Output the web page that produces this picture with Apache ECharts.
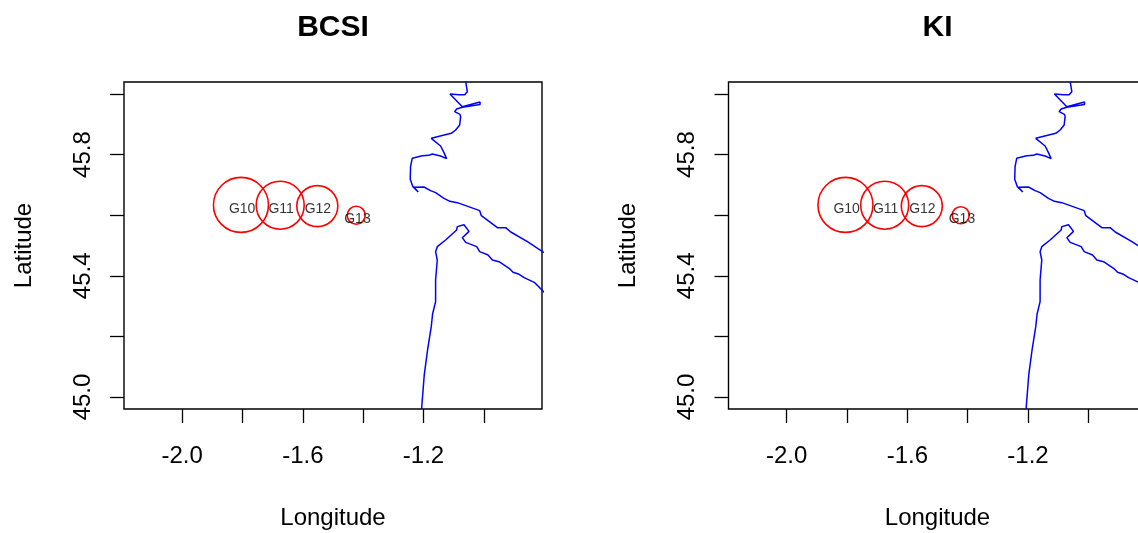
<!DOCTYPE html>
<html><head><meta charset="utf-8">
<style>html,body{margin:0;padding:0;background:#fff;overflow:hidden}#c{width:1138px;height:533px}</style>
<script src="https://cdn.jsdelivr.net/npm/echarts@6/dist/echarts.min.js"></script>
</head><body><div id="c"></div>
<script>
const panelTitles = ['BCSI', 'KI'];
const xTicks = [-2.0, -1.8, -1.6, -1.4, -1.2, -1.0];
const xTickLabels = [-2.0, -1.6, -1.2];
const yTicks = [45.0, 45.2, 45.4, 45.6, 45.8, 46.0];
const yTickLabels = [45.0, 45.4, 45.8];
const groups = ['G10', 'G11', 'G12', 'G13'];
const groupLon = [-1.805, -1.675, -1.552, -1.423];
const groupLat = [45.634, 45.633, 45.630, 45.600];
const labelLon = [-1.801, -1.672, -1.550, -1.419];
const labelLat = [45.620, 45.620, 45.620, 45.587];
const bcsiDiameter = [55, 48, 41, 18];
const kiDiameter = [55, 48, 41, 17];
const coastNorth = [
[-1.0604,46.0407],[-1.0549,46.0352],[-1.0549,46.0077],[-1.0637,45.9978],[-1.0825,45.9978],[-1.1124,46.0000],
[-1.0715,45.9582],[-1.0128,45.9735],[-1.0128,45.9650],[-1.0715,45.9560],[-1.0903,45.9505],[-1.0969,45.9417],
[-1.0792,45.9329],[-1.0770,45.9252],[-1.0803,45.8977],[-1.0936,45.8812],[-1.1080,45.8702],[-1.1744,45.8537],
[-1.1434,45.8284],[-1.1323,45.8064],[-1.1235,45.7866],[-1.1434,45.7954],[-1.1711,45.8020],[-1.1821,45.7976],
[-1.2043,45.7965],[-1.2375,45.7877],[-1.2430,45.7602],[-1.2441,45.7184],[-1.2353,45.6942],[-1.2175,45.6766],
[-1.2319,45.6920],[-1.1987,45.6931],[-1.1766,45.6810],[-1.1600,45.6744],[-1.1323,45.6557],[-1.1124,45.6458],
[-1.0881,45.6414],[-1.0139,45.6150],[-1.0084,45.5985],[-0.9774,45.5754],[-0.9553,45.5589],[-0.9276,45.5589],
[-0.9110,45.5445],[-0.8557,45.5127],[-0.8003,45.4764]];
const coastSouth = [
[-1.2065,44.9604],[-1.1976,45.0727],[-1.1866,45.1552],[-1.1744,45.2322],[-1.1700,45.2740],[-1.1600,45.3147],
[-1.1600,45.3862],[-1.1545,45.4522],[-1.1600,45.4797],[-1.1545,45.4962],[-1.1268,45.5182],[-1.0903,45.5512],
[-1.0881,45.5622],[-1.0659,45.5687],[-1.0493,45.5467],[-1.0715,45.5258],[-1.0604,45.5104],[-1.0239,45.4962],
[-1.0139,45.4797],[-0.9862,45.4687],[-0.9719,45.4522],[-0.9497,45.4467],[-0.9165,45.4247],[-0.9033,45.4115],
[-0.8833,45.4049],[-0.8667,45.3939],[-0.8313,45.3774],[-0.8003,45.3455]];

const FONT = '"Liberation Sans", Arial, sans-serif';
const panels = [{left:124, diam:bcsiDiameter},{left:728.5, diam:kiDiameter}];
const W = 418, TOP = 82, H = 327;
const grid=[],xAxis=[],yAxis=[],title=[],series=[];
panels.forEach((p,i)=>{
  grid.push({left:p.left,top:TOP,width:W,height:H,show:true,borderColor:'#000',borderWidth:1.4,backgroundColor:'transparent',outerBoundsMode:'none'});
  title.push({text:panelTitles[i],left:p.left+W/2-5,top:8,textAlign:'center',
    textStyle:{fontFamily:FONT,fontSize:30,fontWeight:'bold',color:'#000'}});
  xAxis.push({type:'value',gridIndex:i,min:-2.1926,max:-0.8074,name:'Longitude',nameLocation:'middle',nameGap:97,
    nameTextStyle:{fontFamily:FONT,fontSize:24,color:'#000'},splitLine:{show:false},
    axisLine:{show:false},
    axisTick:{show:true,length:14,customValues:xTicks,lineStyle:{color:'#000',width:1.3}},
    axisLabel:{show:true,margin:35,customValues:xTickLabels,fontFamily:FONT,fontSize:24,color:'#000',formatter:v=>v.toFixed(1)}});
  yAxis.push({type:'value',gridIndex:i,min:44.9604,max:46.0396,name:'Latitude',nameLocation:'middle',nameGap:88,nameRotate:90,
    nameTextStyle:{fontFamily:FONT,fontSize:24,color:'#000'},splitLine:{show:false},
    axisLine:{show:false},
    axisTick:{show:true,length:14,customValues:yTicks,lineStyle:{color:'#000',width:1.3}},
    axisLabel:{show:true,margin:41,rotate:90,customValues:yTickLabels,fontFamily:FONT,fontSize:24,color:'#000',formatter:v=>v.toFixed(1),align:'center',verticalAlign:'middle'}});
  [coastNorth,coastSouth].forEach(c=>series.push({type:'line',xAxisIndex:i,yAxisIndex:i,data:c,symbol:'none',clip:true,silent:true,
    lineStyle:{color:'#0000ff',width:1.5}}));
  series.push({type:'scatter',xAxisIndex:i,yAxisIndex:i,silent:true,
    data:groups.map((g,k)=>({name:g,value:[groupLon[k],groupLat[k]],symbolSize:p.diam[k]})),
    symbol:'circle',itemStyle:{color:'rgba(0,0,0,0)',borderColor:'#ff0000',borderWidth:1.6,opacity:1}});
  series.push({type:'scatter',xAxisIndex:i,yAxisIndex:i,silent:true,symbolSize:1,
    itemStyle:{color:'rgba(0,0,0,0)'},
    data:groups.map((g,k)=>({name:g,value:[labelLon[k],labelLat[k]]})),
    label:{show:true,position:'inside',formatter:'{b}',fontFamily:FONT,fontSize:14,color:'#000'}});
});
const chart=echarts.init(document.getElementById('c'),null,{renderer:'canvas'});
chart.setOption({animation:false,backgroundColor:'#fff',title,grid,xAxis,yAxis,series,tooltip:{show:false},legend:{show:false}});
</script></body></html>
